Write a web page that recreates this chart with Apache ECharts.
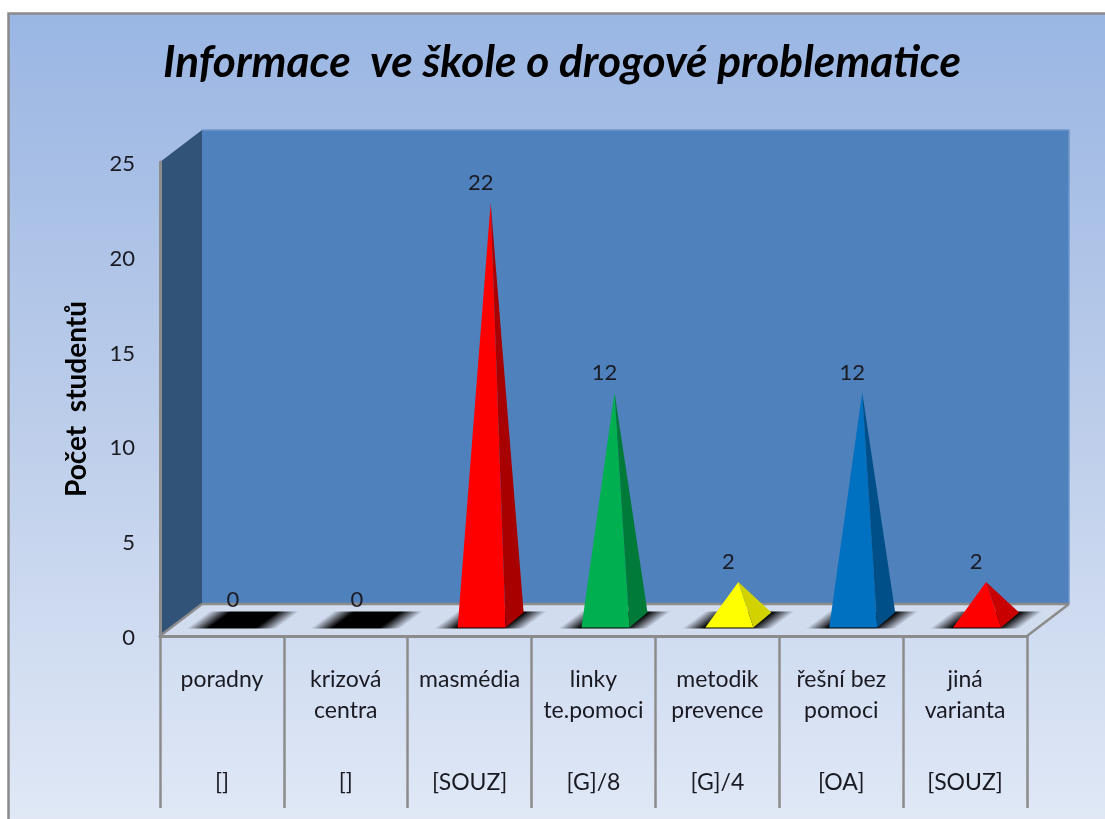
<!DOCTYPE html>
<html>
<head>
<meta charset="utf-8">
<style>html,body{margin:0;padding:0;background:#fff}#c{width:1105px;height:819px}</style>
<script src="https://cdn.jsdelivr.net/npm/echarts@6/dist/echarts.min.js"></script>
</head>
<body>
<div id="c"></div>
<script>
const categories = ['poradny', 'krizová\ncentra', 'masmédia', 'linky\nte.pomoci', 'metodik\nprevence', 'řešní bez\npomoci', 'jiná\nvarianta'];
const groupLabels = ['[]', '[]', '[SOUZ]', '[G]/8', '[G]/4', '[OA]', '[SOUZ]'];
const values = [0, 0, 22, 12, 2, 12, 2];
const frontColors = ['#000000', '#000000', '#ff0000', '#00b050', '#ffff00', '#0070c0', '#ff0000'];
const sideColors = ['#000000', '#000000', '#a80000', '#007a38', '#d2d200', '#004f88', '#c80000'];
const yTicks = { min: 0, max: 25, interval: 5 };
const titleText = 'Informace  ve škole o drogové problematice';
const yTitle = 'Počet  studentů';

const FONT = 'Lato, "Open Sans", sans-serif';
const TEXT = '#1a1a22';
const LINE = '#8c8c8c';
const depthX = 42, depthY = 32;

function poly(points, fill) {
  return { type: 'polygon', shape: { points }, style: { fill }, silent: true };
}
function edge(x1, y1, x2, y2) {
  return { type: 'line', shape: { x1, y1, x2, y2 }, style: { stroke: LINE, lineWidth: 2.5 }, silent: true };
}

function renderWalls(params) {
  const g = params.coordSys;
  const L = g.x, R = g.x + g.width, T = g.y, B = g.y + g.height;
  return {
    type: 'group',
    children: [
      poly([[L + depthX, T - depthY], [R + depthX, T - depthY], [R + depthX, B - depthY], [L + depthX, B - depthY]], '#4f81bd'),
      { type: 'polyline', shape: { points: [[L + depthX, T - depthY], [R + depthX, T - depthY], [R + depthX, B - depthY]] },
        style: { stroke: '#6f97c9', lineWidth: 1.5, fill: null }, silent: true },
      poly([[L, T], [L + depthX, T - depthY], [L + depthX, B - depthY], [L, B]], '#325378'),
      poly([[L, B], [L + depthX, B - depthY], [R + depthX, B - depthY], [R, B]], '#d1dcef'),
      edge(L + depthX, B - depthY, R + depthX, B - depthY),
      edge(R, B, R + depthX, B - depthY),
      edge(L, B, L + depthX, B - depthY)
    ]
  };
}

function renderPyramid(params, api) {
  const idx = api.value(0), val = api.value(1);
  const base = api.coord([idx, 0]);
  const top = api.coord([idx, val]);
  const cx = base[0] + depthX / 2, cy = base[1] - depthY / 2;
  const apexY = top[1] - depthY / 2;
  const hw = 24, dx = 9, dy = 7.5;
  const fl = [cx - hw - dx, cy + dy], fr = [cx + hw - dx, cy + dy], br = [cx + hw + dx, cy - dy];
  const apex = [cx, apexY];

  // soft floor shadow: slanted black patch that fades towards its slanted ends
  const sH = 8.5, sW = 45, sx = 11.5;
  const bl = [cx - sW - sx, cy + sH], tl = [cx - sW + sx, cy - sH], tr = [cx + sW + sx, cy - sH], brr = [cx + sW - sx, cy + sH];
  const nx = 0.594, ny = 0.804, span = 2 * sW * nx;
  const shadowFill = new echarts.graphic.LinearGradient(
    bl[0], bl[1], bl[0] + nx * span, bl[1] + ny * span,
    [
      { offset: 0, color: 'rgba(0,0,0,0)' },
      { offset: 0.24, color: 'rgba(0,0,0,1)' },
      { offset: 0.76, color: 'rgba(0,0,0,1)' },
      { offset: 1, color: 'rgba(0,0,0,0)' }
    ], true);

  const children = [poly([bl, tl, tr, brr], shadowFill)];
  if (val > 0) {
    children.push(poly([fl, apex, fr], frontColors[idx]));
    children.push(poly([fr, apex, br], sideColors[idx]));
  }
  children.push({
    type: 'text',
    style: {
      x: apex[0] - 10, y: apex[1] - 20, text: String(val),
      fill: TEXT, font: '22px ' + FONT, align: 'center', verticalAlign: 'middle'
    },
    silent: true
  });
  return { type: 'group', children };
}

const chart = echarts.init(document.getElementById('c'), null, { renderer: 'canvas' });
chart.setOption({
  animation: false,
  backgroundColor: '#ffffff',
  graphic: [{
    type: 'rect', z: -10, silent: true,
    shape: { x: 9, y: 14, width: 1096, height: 805 },
    style: {
      fill: new echarts.graphic.LinearGradient(0, 0, 0, 1, [
        { offset: 0, color: '#9ab6e3' },
        { offset: 0.5, color: '#bccdea' },
        { offset: 1, color: '#e0e8f6' }
      ]),
      stroke: null
    }
  }, {
    type: 'polyline', z: -9, silent: true,
    shape: { points: [[8.5, 819], [8.5, 13.5], [1105, 13.5]] },
    style: { stroke: '#8a8a8a', lineWidth: 2.5, fill: null }
  }],
  title: {
    text: titleText,
    left: 557, top: 36, textAlign: 'center',
    textStyle: { fontFamily: FONT, fontSize: 44.2, fontWeight: 'bold', fontStyle: 'italic', color: '#000000' }
  },
  grid: { left: 160, right: 78, top: 162, bottom: 183, containLabel: false },
  xAxis: [{
    type: 'category',
    data: categories,
    position: 'bottom',
    z: 5,
    axisLine: { show: true, lineStyle: { color: LINE, width: 3 } },
    axisTick: { show: true, alignWithLabel: false, length: 172, lineStyle: { color: LINE, width: 2.5 } },
    axisLabel: {
      interval: 0, margin: 28, lineHeight: 31, verticalAlign: 'top',
      fontFamily: FONT, fontSize: 23, color: TEXT
    }
  }, {
    type: 'category',
    data: groupLabels,
    position: 'bottom',
    axisLine: { show: false },
    axisTick: { show: false },
    axisLabel: {
      interval: 0, margin: 131, lineHeight: 31, verticalAlign: 'top',
      fontFamily: FONT, fontSize: 23, color: TEXT
    }
  }],
  yAxis: {
    type: 'value',
    z: 5,
    min: yTicks.min, max: yTicks.max, interval: yTicks.interval,
    name: yTitle,
    nameLocation: 'middle',
    nameGap: 69,
    nameRotate: 90,
    nameTextStyle: { fontFamily: FONT, fontSize: 28, fontWeight: 'bold', color: '#000000' },
    splitLine: { show: false },
    axisTick: { show: false },
    axisLine: { show: true, lineStyle: { color: LINE, width: 3 } },
    axisLabel: {
      margin: 25,
      formatter: v => '{v|' + v + '}',
      rich: { v: { fontFamily: FONT, fontSize: 22, color: TEXT, padding: [4, 0, 0, 0] } }
    }
  },
  series: [{
    type: 'custom',
    coordinateSystem: 'cartesian2d',
    z: 1,
    silent: true,
    renderItem: renderWalls,
    data: [[0, 0]],
    encode: { x: 0, y: 1 }
  }, {
    type: 'custom',
    coordinateSystem: 'cartesian2d',
    z: 2,
    silent: true,
    renderItem: renderPyramid,
    data: values.map((v, i) => [i, v]),
    encode: { x: 0, y: 1 }
  }]
});
</script>
</body>
</html>
